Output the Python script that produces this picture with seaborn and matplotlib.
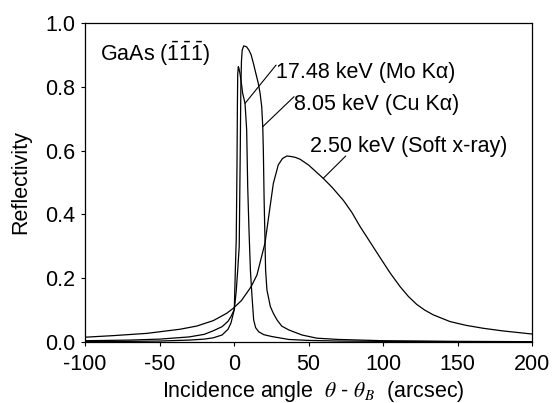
import numpy as np
import pandas as pd
import matplotlib
matplotlib.use("Agg")
import matplotlib.pyplot as plt
from matplotlib.ticker import FormatStrFormatter
import seaborn as sns

# Rocking curves of GaAs (-1-1-1) at three photon energies
# angle offset from the Bragg angle (arcsec) and reflectivity

mo_angle = [-100, -70, -50, -30, -20, -14, -8, -4, -2, 0.2, 0.9, 1.5, 2.0, 2.3, 2.5,
            2.9, 3.3, 4.0, 5.0, 5.8, 7.4, 8.5, 9.2, 10.0, 11.0, 12.1, 13.2, 14.5,
            16.6, 20, 25.5, 36.7, 50, 70, 100, 150, 200]
mo_refl = [0.001, 0.002, 0.003, 0.006, 0.009, 0.013, 0.022, 0.04, 0.06, 0.102, 0.226,
           0.32, 0.55, 0.75, 0.84, 0.863, 0.858, 0.842, 0.81, 0.78, 0.748, 0.665,
           0.487, 0.36, 0.226, 0.142, 0.069, 0.045, 0.032, 0.023, 0.017, 0.008,
           0.005, 0.003, 0.002, 0.001, 0.001]

cu_angle = [-100, -70, -50, -30, -20, -14, -8, -4, -2, 0.2, 1.5, 2.5, 3.5, 4.2, 4.6,
            5.0, 5.5, 6.5, 7.5, 8.5, 10.0, 11.5, 13.0, 14.5, 16.3, 17.5, 18.6, 19.3,
            19.7, 20.2, 20.8, 21.2, 22.1, 24.4, 26.4, 28.9, 32, 36.7, 45.6, 55.5,
            70, 100, 150, 200]
cu_refl = [0.004, 0.006, 0.009, 0.016, 0.024, 0.035, 0.048, 0.065, 0.08, 0.102, 0.16,
           0.226, 0.30, 0.6, 0.8, 0.88, 0.915, 0.928, 0.927, 0.925, 0.915, 0.9, 0.874,
           0.845, 0.811, 0.78, 0.738, 0.675, 0.6, 0.45, 0.32, 0.226, 0.163, 0.111,
           0.09, 0.069, 0.05, 0.038, 0.022, 0.012, 0.008, 0.004, 0.002, 0.001]

soft_angle = [-100, -81, -58.6, -36.2, -25, -13.9, -4.9, -0.4, 5, 10.7, 12.1, 15.4,
              20.8, 24.2, 26.4, 29.7, 32.5, 35.4, 37.6, 41, 44.3, 50, 59.9, 66,
              73.4, 79, 84.6, 90, 98, 105, 111.4, 117, 122.6, 128, 133.8, 145,
              156, 167.3, 180, 190, 200]
soft_refl = [0.015, 0.020, 0.027, 0.040, 0.050, 0.067, 0.09, 0.106, 0.13, 0.168,
             0.179, 0.21, 0.31, 0.424, 0.497, 0.555, 0.575, 0.583, 0.582, 0.579,
             0.573, 0.555, 0.513, 0.484, 0.444, 0.407, 0.362, 0.323, 0.265, 0.215,
             0.174, 0.143, 0.118, 0.100, 0.085, 0.064, 0.052, 0.043, 0.035, 0.030,
             0.025]

energy_labels = ["17.48 keV (Mo Kα)", "8.05 keV (Cu Kα)", "2.50 keV (Soft x-ray)"]
x_ticks = [-100, -50, 0, 50, 100, 150, 200]
y_ticks = [0.0, 0.2, 0.4, 0.6, 0.8, 1.0]

sns.set_theme(style="ticks")
plt.rcParams['font.family'] = ['Liberation Sans', 'DejaVu Sans']
plt.rcParams['mathtext.fontset'] = 'custom'
plt.rcParams['mathtext.rm'] = 'Liberation Sans'
plt.rcParams['mathtext.it'] = 'Liberation Sans:italic'
plt.rcParams['mathtext.bf'] = 'Liberation Sans:bold'
plt.rcParams['axes.unicode_minus'] = False
plt.rcParams['text.color'] = 'black'
plt.rcParams['axes.labelcolor'] = 'black'
plt.rcParams['xtick.color'] = 'black'
plt.rcParams['ytick.color'] = 'black'
plt.rcParams['axes.edgecolor'] = 'black'

FS = 15.5

df = pd.concat([
    pd.DataFrame({"angle": mo_angle, "refl": mo_refl, "energy": energy_labels[0]}),
    pd.DataFrame({"angle": cu_angle, "refl": cu_refl, "energy": energy_labels[1]}),
    pd.DataFrame({"angle": soft_angle, "refl": soft_refl, "energy": energy_labels[2]}),
], ignore_index=True)

fig = plt.figure(figsize=(5.55, 4.03), dpi=100)
ax = fig.add_axes([85 / 555, 1 - 342 / 403, 447 / 555, 319 / 403])

sns.lineplot(data=df, x="angle", y="refl", units="energy", estimator=None,
             color="black", linewidth=0.9, ax=ax, legend=False)

ax.set_xlim(-100, 200)
ax.set_ylim(0, 1.0)
ax.set_xticks(x_ticks)
ax.set_yticks(y_ticks)
ax.yaxis.set_major_formatter(FormatStrFormatter("%.1f"))
ax.tick_params(axis="both", direction="out", length=3, width=0.8,
               labelsize=FS, colors="black")
ax.tick_params(axis="x", pad=6)
ax.tick_params(axis="y", pad=4)
for sp in ax.spines.values():
    sp.set_visible(True)
    sp.set_linewidth(0.9)
    sp.set_color("black")

ax.set_ylabel("Reflectivity", fontsize=FS, color="black")
ax.yaxis.set_label_coords(-0.12, 0.5)
ax.set_xlabel(r"Incidence angle  $\theta$ - $\theta_B$  (arcsec)", fontsize=FS,
              color="black")
ax.xaxis.label.set_math_fontfamily("stix")
ax.xaxis.set_label_coords(0.511, -0.115)

ax.text(-90, 0.882, r"GaAs ($\bar{1}\bar{1}\bar{1}$)", fontsize=FS, va="baseline",
        color="black")

# labels with leader lines to their curves
curves = [(mo_angle, mo_refl), (cu_angle, cu_refl), (soft_angle, soft_refl)]
label_pos = [(28.5, 0.827), (40.3, 0.727), (51, 0.597)]
leader_start = [(28.2, 0.868), (40.3, 0.769), (75, 0.583)]
leader_end_x = [7.4, 19.3, 59.9]
for lab, (tx, ty), (sx, sy), ex, (cx, cy) in zip(energy_labels, label_pos, leader_start,
                                                 leader_end_x, curves):
    ey = np.interp(ex, cx, cy)
    ax.plot([sx, ex], [sy, ey], color="black", linewidth=0.8)
    ax.text(tx, ty, lab, fontsize=FS, va="baseline", color="black")

fig.savefig("out.png", dpi=100)
